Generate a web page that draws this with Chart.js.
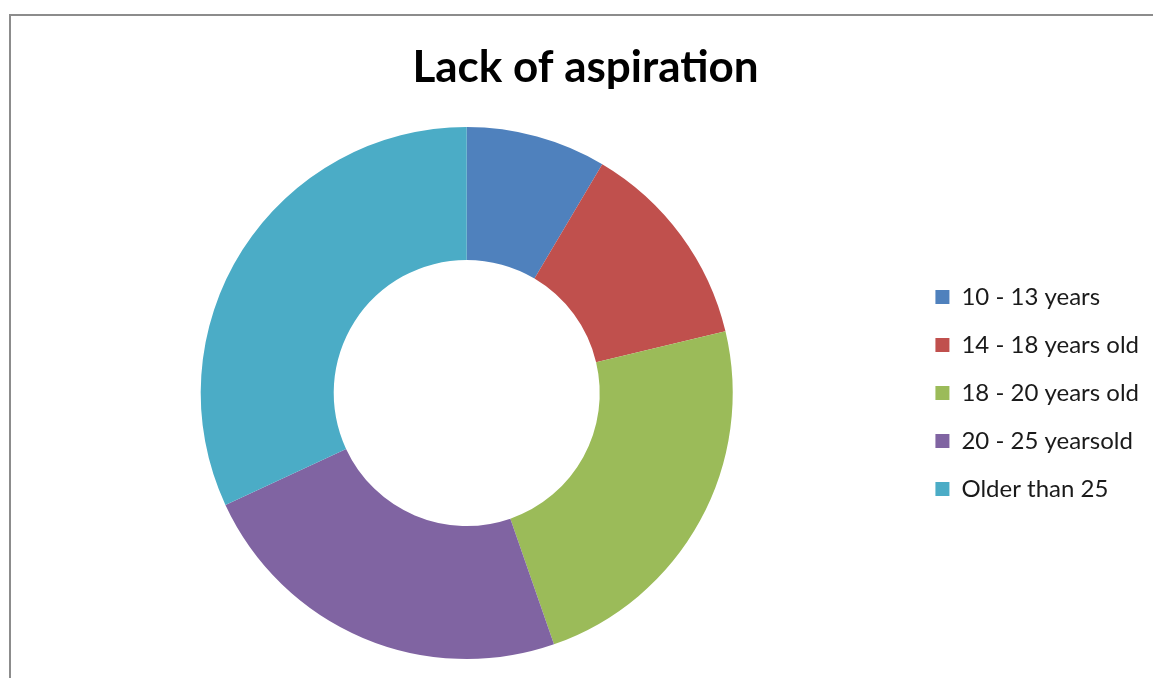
<!DOCTYPE html>
<html>
<head>
<meta charset="utf-8">
<title>Lack of aspiration</title>
<script src="https://cdn.jsdelivr.net/npm/chart.js@4/dist/chart.umd.min.js"></script>
<style>
  html, body { margin: 0; padding: 0; background: #ffffff; overflow: hidden; width: 1153px; height: 678px; }
  #frame {
    position: absolute; left: 9px; top: 14px; width: 1200px; height: 700px;
    border-left: 2px solid #8c8c8c; border-top: 2px solid #8c8c8c;
  }
  #wrap { position: absolute; left: 11px; top: 16px; width: 1150px; height: 662px; }
</style>
</head>
<body>
<div id="frame"></div>
<div id="wrap"><canvas id="chart"></canvas></div>
<script>
// Age groups and their counts
const categories = ['10 - 13 years', '14 - 18 years old', '18 - 20 years old', '20 - 25 yearsold', 'Older than 25'];
const counts = [8, 12, 22, 22, 30];
const sliceColors = ['#4F81BD', '#C0504D', '#9BBB59', '#8064A2', '#4BACC6'];
const chartTitle = 'Lack of aspiration';

const ctx = document.getElementById('chart');
new Chart(ctx, {
  type: 'doughnut',
  data: {
    labels: categories,
    datasets: [{
      data: counts,
      backgroundColor: sliceColors,
      borderWidth: 0,
      hoverOffset: 0
    }]
  },
  options: {
    responsive: true,
    maintainAspectRatio: false,
    animation: false,
    cutout: '50%',
    layout: { padding: { left: 11, right: 12, top: 0, bottom: 19 } },
    plugins: {
      title: {
        display: true,
        text: chartTitle,
        color: '#000000',
        font: { family: 'Lato, "Noto Sans", sans-serif', size: 44, weight: 'bold', lineHeight: 1.2 },
        padding: { top: 25, bottom: 33.2 }
      },
      legend: {
        display: true,
        position: 'right',
        align: 'center',
        fullSize: false,
        labels: {
          color: '#1a1a1a',
          font: { family: 'Lato, "Noto Sans", sans-serif', size: 24 },
          boxWidth: 14,
          boxHeight: 14,
          padding: 24
        }
      },
      tooltip: { enabled: false }
    }
  }
});
</script>
</body>
</html>
